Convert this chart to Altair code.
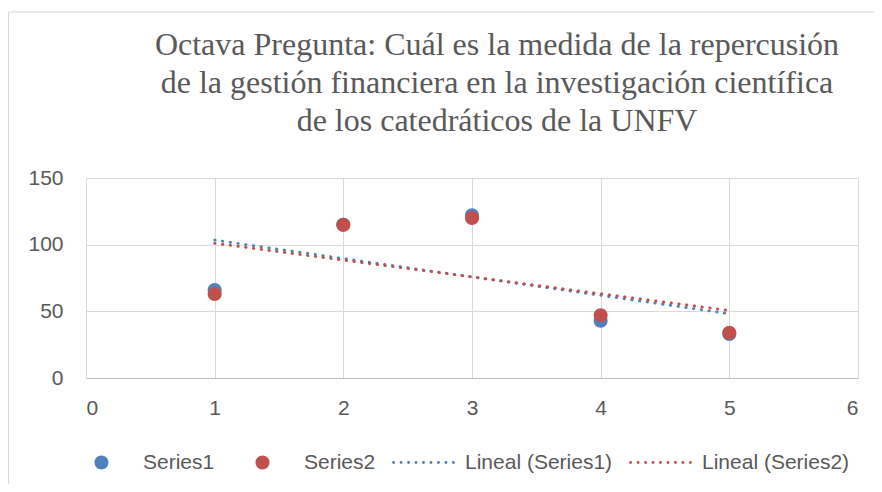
import altair as alt
import pandas as pd

# ---- data ----
x_vals = [1, 2, 3, 4, 5]
series1 = [66, 115, 122, 43, 33]
series2 = [63, 115, 120, 47, 34]
series_names = ["Series1", "Series2"]
trend_names = ["Lineal (Series1)", "Lineal (Series2)"]
legend_labels = series_names + trend_names
x_ticks = [0, 1, 2, 3, 4, 5, 6]
y_ticks = [0, 50, 100, 150]
title_lines = [
    "Octava Pregunta: Cuál es la medida de la repercusión",
    "de la gestión financiera en la investigación científica",
    "de los catedráticos de la UNFV",
]

BLUE = "#4F81BD"
RED = "#C0504D"
GRAY_TXT = "#595959"

rows = []
for name, vals in zip(series_names, [series1, series2]):
    for xv, yv in zip(x_vals, vals):
        rows.append({"x": xv, "y": yv, "series": name})
df = pd.DataFrame(rows)

# symbol paths (unit space, scaled by sqrt(size)/2 by Vega)
def circle_path(cx, r):
    return f"M{cx - r:.3f},0a{r:.3f},{r:.3f} 0 1,0 {2*r:.3f},0a{r:.3f},{r:.3f} 0 1,0 {-2*r:.3f},0Z"

CIRCLE = circle_path(0, 0.215)
n_dots = 9
DOTS = "".join(circle_path(-0.92 + i * (1.84 / (n_dots - 1)), 0.045) for i in range(n_dots))

color_scale = alt.Scale(domain=legend_labels, range=[BLUE, RED, BLUE, RED])
shape_scale = alt.Scale(domain=legend_labels, range=[CIRCLE, CIRCLE, DOTS, DOTS])
trend_scale = alt.Scale(domain=trend_names, range=[BLUE, RED])

x_enc = alt.X(
    "x:Q",
    scale=alt.Scale(domain=[0, 6], nice=False, zero=False),
    axis=alt.Axis(
        values=x_ticks, title=None, grid=True, gridColor="#D9D9D9", domain=True,
        domainColor="#BFBFBF", ticks=False, tickSize=0, labelFontSize=21,
        labelFont="Liberation Sans", labelColor=GRAY_TXT, labelPadding=19,
    ),
)
y_enc = alt.Y(
    "y:Q",
    scale=alt.Scale(domain=[0, 150], nice=False),
    axis=alt.Axis(
        values=y_ticks, title=None, grid=True, gridColor="#D9D9D9", domain=False,
        ticks=False, tickSize=0, labelFontSize=21, labelFont="Liberation Sans",
        labelColor=GRAY_TXT, labelPadding=23,
    ),
)

legend_def = alt.Legend(
    title=None, orient="none", legendX=-17, legendY=252, direction="horizontal",
    gridAlign="none", columnPadding=15, labelOffset=9, symbolSize=4225,
    symbolStrokeWidth=0, labelFontSize=21, labelFont="Liberation Sans",
    labelColor=GRAY_TXT, symbolOpacity=1, padding=0,
)

# chart frame (decoration)
border = alt.Chart(alt.Data(values=[{"b": 1}])).mark_rect(
    fillOpacity=0, stroke="#D9D9D9", strokeWidth=1, clip=False
).encode(
    x=alt.value(-77.5), x2=alt.value(820), y=alt.value(-166), y2=alt.value(330)
)

trend = alt.Chart(df).transform_regression(
    "x", "y", groupby=["series"], extent=[1, 5]
).transform_calculate(
    trend="'Lineal (' + datum.series + ')'"
).mark_line(
    strokeWidth=2.8, strokeDash=[0.5, 7.3], strokeCap="round"
).encode(
    x=x_enc, y=y_enc,
    color=alt.Color("trend:N", scale=trend_scale, legend=None),
    detail="trend:N",
)

points = alt.Chart(df).transform_calculate(
    label="datum.series"
).mark_point(filled=True, opacity=1, size=4225, strokeWidth=0).encode(
    x=x_enc, y=y_enc,
    color=alt.Color("label:N", scale=color_scale, legend=legend_def),
    shape=alt.Shape("label:N", scale=shape_scale, legend=legend_def),
    order=alt.Order("series:N"),
)

chart = alt.layer(border, trend, points).resolve_scale(
    color="independent", shape="independent"
).resolve_legend(
    color="independent", shape="independent"
).properties(
    width=772,
    height=200,
    autosize=alt.AutoSizeParams(type="none"),
    padding={"left": 78, "top": 170, "right": 16, "bottom": 106},
    title=alt.TitleParams(
        text=title_lines, fontSize=32, font="Liberation Serif", color=GRAY_TXT,
        fontWeight="normal", lineHeight=38, anchor="middle", dx=25, offset=-126,
    ),
).configure_view(stroke=None)

chart.save("out.html", embed_options={"renderer": "svg", "actions": False})
